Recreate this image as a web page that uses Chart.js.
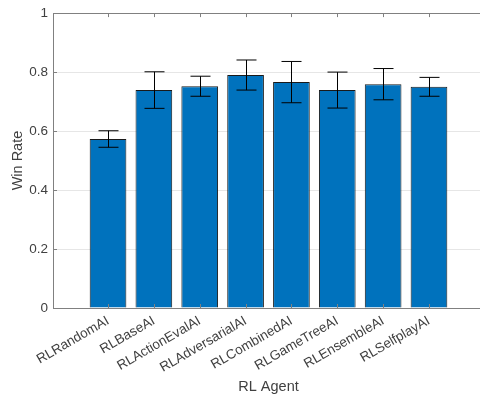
<!DOCTYPE html>
<html lang="en">
<head>
    <meta charset="UTF-8">
    <title>Win Rate by RL Agent</title>
    <script src="https://cdn.jsdelivr.net/npm/chart.js"></script>
    <style>
        html, body { margin: 0; padding: 0; background: #fff; overflow: hidden; }
        .chart-box { width: 484px; height: 398px; }
    </style>
</head>
<body>
<div class="chart-box">
    <canvas id="winChart"></canvas>
</div>
<script>
    // data
    const agents = ['RLRandomAI', 'RLBaseAI', 'RLActionEvalAI', 'RLAdversarialAI',
                    'RLCombinedAI', 'RLGameTreeAI', 'RLEnsembleAI', 'RLSelfplayAI'];
    const winRate = [0.573, 0.739, 0.752, 0.790, 0.766, 0.739, 0.759, 0.750];
    const winErr  = [0.028, 0.062, 0.034, 0.051, 0.070, 0.061, 0.053, 0.032];
    const yTicks  = [0, 0.2, 0.4, 0.6, 0.8, 1];

    const axisColor = '#808080';
    const textColor = '#404040';
    const fontFamily = '"Liberation Sans", Arial, sans-serif';

    // error bars + MATLAB-ish box with inner ticks
    const matlabBits = {
        id: 'matlabBits',
        afterDatasetsDraw(chart) {
            const ctx = chart.ctx;
            const xs = chart.scales.x, ys = chart.scales.y;
            ctx.save();
            ctx.strokeStyle = '#000';
            ctx.lineWidth = 1;
            winRate.forEach((v, i) => {
                const x = Math.round(xs.getPixelForValue(i + 1)) + 0.5;
                const yHi = ys.getPixelForValue(v + winErr[i]);
                const yLo = ys.getPixelForValue(v - winErr[i]);
                ctx.beginPath();
                ctx.moveTo(x, yHi); ctx.lineTo(x, yLo);
                ctx.moveTo(x - 10, yHi); ctx.lineTo(x + 10, yHi);
                ctx.moveTo(x - 10, yLo); ctx.lineTo(x + 10, yLo);
                ctx.stroke();
            });
            ctx.restore();
        },
        afterDraw(chart) {
            const ctx = chart.ctx;
            const a = chart.chartArea;
            const xs = chart.scales.x, ys = chart.scales.y;
            ctx.save();
            ctx.strokeStyle = axisColor;
            ctx.lineWidth = 1;
            ctx.beginPath();
            // top frame
            ctx.moveTo(a.left, Math.round(a.top) + 0.5);
            ctx.lineTo(a.right, Math.round(a.top) + 0.5);
            // x ticks top and bottom, pointing inward
            agents.forEach((_, i) => {
                const x = Math.round(xs.getPixelForValue(i + 1)) + 0.5;
                ctx.moveTo(x, a.top); ctx.lineTo(x, a.top + 4);
                ctx.moveTo(x, a.bottom); ctx.lineTo(x, a.bottom - 4);
            });
            // y ticks on the left, pointing inward
            yTicks.forEach(t => {
                const y = Math.round(ys.getPixelForValue(t)) + 0.5;
                ctx.moveTo(a.left, y); ctx.lineTo(a.left + 4, y);
            });
            ctx.stroke();
            ctx.restore();
        }
    };

    const ctxChart = document.getElementById('winChart').getContext('2d');
    const winChart = new Chart(ctxChart, {
        type: 'bar',
        data: {
            datasets: [{
                data: winRate.map((v, i) => ({ x: i + 1, y: v })),
                backgroundColor: '#0072BD',
                borderColor: '#1a1a1a',
                borderWidth: 1,
                barPercentage: 0.8,
                categoryPercentage: 1
            }]
        },
        options: {
            responsive: true,
            maintainAspectRatio: false,
            animation: false,
            layout: { padding: { top: 12, left: 0, right: 0, bottom: 0 } },
            plugins: {
                legend: { display: false },
                tooltip: { enabled: false }
            },
            scales: {
                x: {
                    type: 'linear',
                    min: -0.2,
                    max: 9.2,
                    offset: false,
                    afterBuildTicks: scale => {
                        scale.ticks = agents.map((_, i) => ({ value: i + 1 }));
                    },
                    afterFit: scale => { scale.height = 90; },
                    grid: { display: false, drawTicks: false },
                    border: { display: true, color: axisColor, width: 1 },
                    ticks: {
                        autoSkip: false,
                        maxRotation: 30,
                        minRotation: 30,
                        padding: 5,
                        color: textColor,
                        font: { family: fontFamily, size: 13.5 },
                        callback: v => agents[v - 1]
                    },
                    title: {
                        display: true,
                        text: 'RL Agent',
                        color: textColor,
                        font: { family: fontFamily, size: 14.5 },
                        padding: { top: 0, bottom: 2 }
                    }
                },
                y: {
                    min: 0,
                    max: 1,
                    afterBuildTicks: scale => {
                        scale.ticks = yTicks.map(t => ({ value: t }));
                    },
                    afterFit: scale => { scale.width = 53; },
                    grid: { color: '#e6e6e6', drawTicks: false },
                    border: { display: true, color: axisColor, width: 1 },
                    ticks: {
                        padding: 5,
                        color: textColor,
                        font: { family: fontFamily, size: 13.5 },
                        callback: v => String(v)
                    },
                    title: {
                        display: true,
                        text: 'Win Rate',
                        color: textColor,
                        font: { family: fontFamily, size: 14.5 },
                        padding: { top: 9, bottom: 4 }
                    }
                }
            }
        },
        plugins: [matlabBits]
    });
</script>
</body>
</html>
